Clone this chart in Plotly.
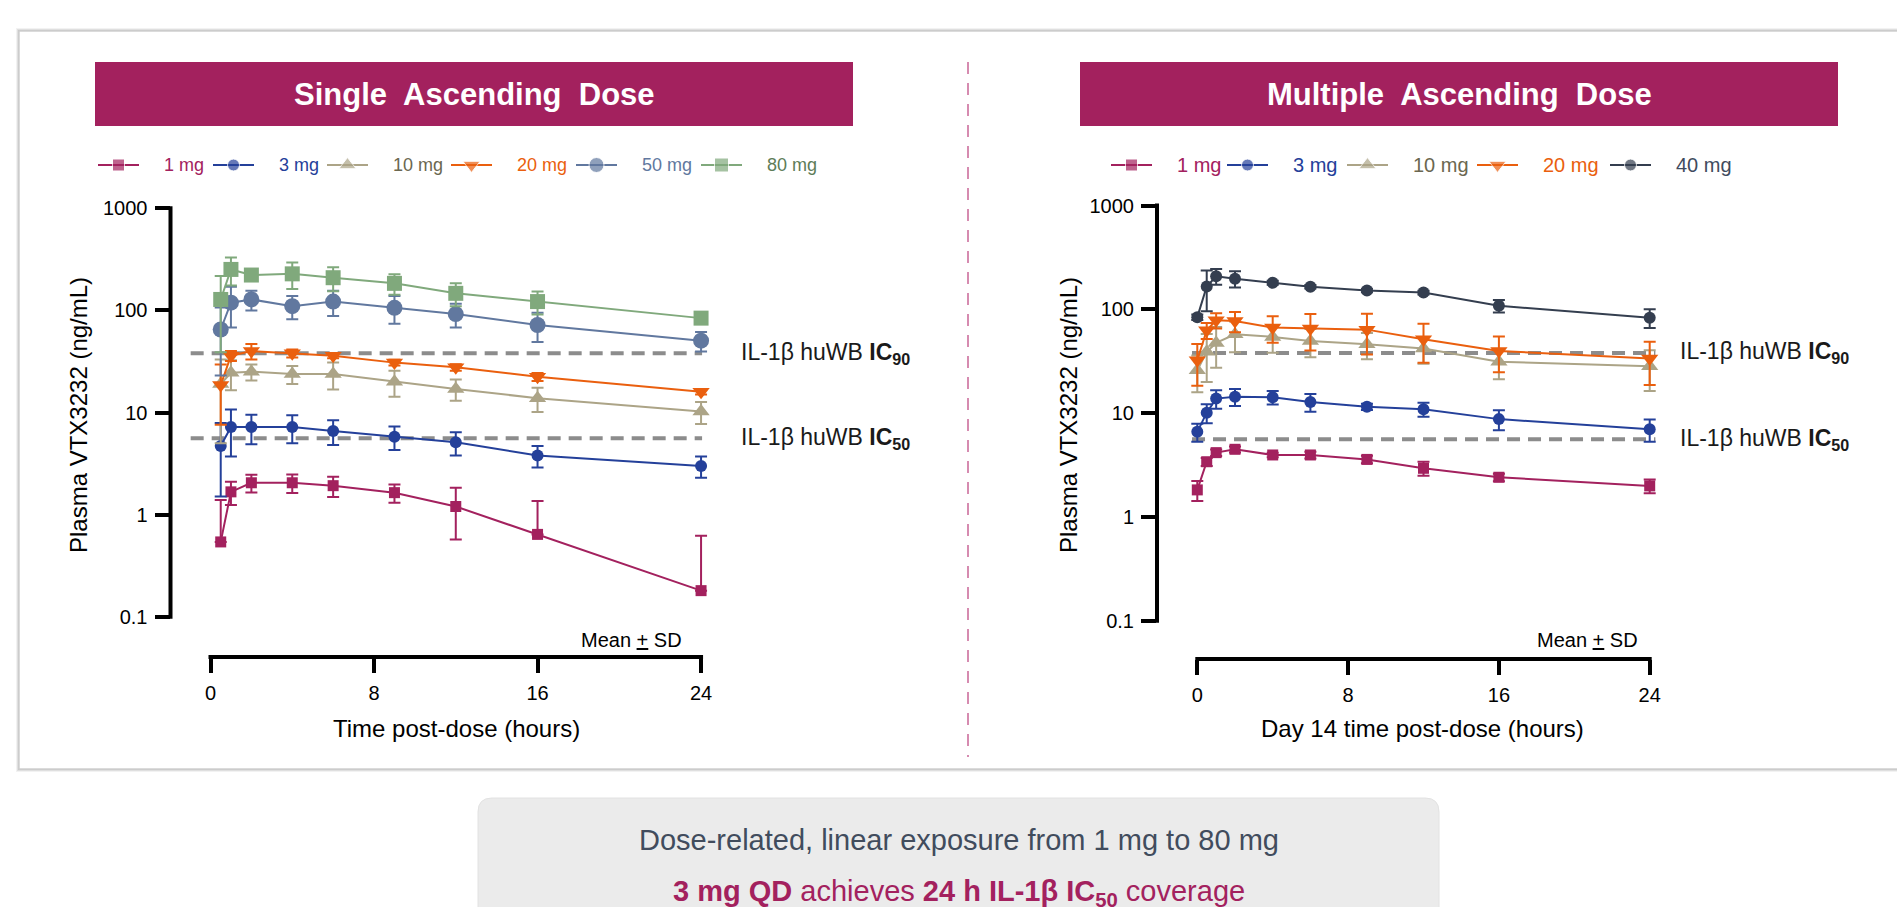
import math
import plotly.graph_objects as go

W, H = 1897, 907

# ---------------- data ----------------
sad_time = [0.5, 1, 2, 4, 6, 9, 12, 16, 24]
sad_1mg = [0.54, 1.67, 2.05, 2.05, 1.92, 1.64, 1.20, 0.64, 0.18]
sad_1mg_sd = [0.85, 0.43, 0.40, 0.42, 0.43, 0.33, 0.63, 0.72, 0.44]
sad_3mg = [4.7, 7.2, 7.2, 7.2, 6.6, 5.8, 5.1, 3.8, 3.0]
sad_3mg_sd = [3.2, 3.5, 2.3, 2.2, 1.8, 1.5, 1.3, 0.9, 0.7]
sad_10mg = [19.0, 24.5, 25.1, 23.8, 23.8, 20.0, 17.0, 13.8, 10.2]
sad_10mg_sd = [14.0, 8.0, 4.5, 4.8, 7.0, 5.7, 4.0, 3.7, 2.5]
sad_20mg = [18.6, 36.0, 40.0, 38.0, 36.0, 30.8, 27.7, 22.4, 16.0]
sad_20mg_sd = [11.0, 4.0, 7.0, 3.5, 2.0, 2.0, 2.0, 2.0, 1.0]
sad_50mg = [65.0, 119.0, 128.0, 110.0, 122.0, 106.0, 92.0, 72.0, 50.5]
sad_50mg_sd = [42.0, 51.0, 28.0, 28.0, 34.0, 32.0, 24.0, 23.0, 11.0]
sad_80mg = [128.0, 252.0, 222.0, 228.0, 209.0, 184.0, 147.0, 122.0, 84.0]
sad_80mg_sd = [89.0, 77.0, 27.0, 66.0, 55.0, 42.0, 37.0, 31.0, 10.0]

mad_time = [0, 0.5, 1, 2, 4, 6, 9, 12, 16, 24]
mad_1mg = [1.82, 3.40, 4.16, 4.48, 3.95, 3.95, 3.58, 2.94, 2.41, 1.99]
mad_1mg_sd = [0.40, 0.30, 0.30, 0.30, 0.20, 0.30, 0.30, 0.45, 0.20, 0.30]
mad_3mg = [6.6, 10.1, 13.8, 14.4, 14.2, 12.8, 11.5, 10.9, 8.75, 7.0]
mad_3mg_sd = [1.3, 2.1, 2.8, 2.7, 2.1, 2.5, 0.8, 1.7, 1.9, 1.7]
mad_10mg = [25.9, 38.9, 47.4, 57.5, 54.2, 49.6, 46.0, 41.9, 31.2, 28.3]
mad_10mg_sd = [10.0, 19.0, 20.0, 19.0, 16.0, 15.0, 13.0, 12.0, 10.0, 12.0]
mad_20mg = [32.3, 62.8, 78.4, 77.2, 66.7, 65.2, 63.7, 51.5, 39.7, 33.6]
mad_20mg_sd = [14.0, 11.0, 13.0, 17.0, 19.0, 25.0, 27.0, 21.0, 15.0, 15.0]
mad_40mg = [84.0, 166.0, 208.0, 197.0, 180.0, 165.0, 152.0, 145.0, 108.0, 83.0]
mad_40mg_sd = [5.0, 70.0, 36.0, 35.0, 8.0, 6.0, 6.0, 6.0, 15.0, 17.0]

ic90 = 38.0
ic50 = 5.6

y_tickvals = [0.1, 1, 10, 100, 1000]
y_ticktext = ["0.1", "1", "10", "100", "1000"]
x_tickvals = [0, 8, 16, 24]
x_ticktext = ["0", "8", "16", "24"]

sad_labels = ["1 mg", "3 mg", "10 mg", "20 mg", "50 mg", "80 mg"]
mad_labels = ["1 mg", "3 mg", "10 mg", "20 mg", "40 mg"]

sad_series = [sad_1mg, sad_3mg, sad_10mg, sad_20mg, sad_50mg, sad_80mg]
sad_sds = [sad_1mg_sd, sad_3mg_sd, sad_10mg_sd, sad_20mg_sd, sad_50mg_sd, sad_80mg_sd]
mad_series = [mad_1mg, mad_3mg, mad_10mg, mad_20mg, mad_40mg]
mad_sds = [mad_1mg_sd, mad_3mg_sd, mad_10mg_sd, mad_20mg_sd, mad_40mg_sd]

panel_titles = ["Single Ascending Dose", "Multiple Ascending Dose"]
x_titles = ["Time post-dose (hours)", "Day 14 time post-dose (hours)"]
y_title = "Plasma VTX3232 (ng/mL)"
ic_label_90 = "IL-1β huWB <b>IC<sub>90</sub></b>"
ic_label_50 = "IL-1β huWB <b>IC<sub>50</sub></b>"
note = "Mean <u>+</u> SD"
summary_1 = "Dose-related, linear exposure from 1 mg to 80 mg"
summary_2 = "<b>3 mg QD</b> achieves <b>24 h IL-1β IC<sub>50</sub></b> coverage"

# ---------------- styles ----------------
FONT = "Liberation Sans, Arial, Helvetica, sans-serif"
MAGENTA = "#a3215e"
styles = {
    "1 mg": dict(color="#a3215e", text="#a3215e", symbol="square"),
    "3 mg": dict(color="#24409a", text="#24409a", symbol="circle"),
    "10 mg": dict(color="#aca487", text="#6b6750", symbol="triangle-up"),
    "20 mg": dict(color="#ea5f0e", text="#ea5f0e", symbol="triangle-down"),
    "50 mg": dict(color="#61789f", text="#61789f", symbol="circle"),
    "80 mg": dict(color="#80a97c", text="#5e7c58", symbol="square"),
    "40 mg": dict(color="#343e4f", text="#3f4b5e", symbol="circle"),
}
sad_sizes = {"1 mg": 11, "3 mg": 12, "10 mg": 15, "20 mg": 15, "50 mg": 16, "80 mg": 15}
mad_sizes = {"1 mg": 11, "3 mg": 12, "10 mg": 15, "20 mg": 15, "40 mg": 12}
legend_sizes = {"1 mg": 12, "3 mg": 12, "10 mg": 15, "20 mg": 15, "50 mg": 15, "80 mg": 14, "40 mg": 12}

# pixel calibration of each panel (layout)
panels = [
    dict(x0=210.5, xs=20.44, yax=170.5, xright=731, y1000=208.3, dec=102.1, xline=657, ytop=190,
         ic_x0=-0.97, ic_x1=24.05, ic_lab=739, note_x=684, ytitle_x=78, xtitle_x=456,
         banner=(95, 853)),
    dict(x0=1197.3, xs=18.85, yax=1157, xright=1668, y1000=205.5, dec=103.8, xline=659, ytop=190,
         ic_x0=-0.28, ic_x1=24.3, ic_lab=1678, note_x=1640, ytitle_x=1068, xtitle_x=1422,
         banner=(1080, 1838)),
]


def PX(x):
    return x / W


def PY(y):
    return 1 - y / H


fig = go.Figure()
shapes = []
annotations = []

# card + shadow
for i, op in enumerate([0.05, 0.08, 0.12]):
    d = 3 - i
    shapes.append(dict(type="rect", xref="paper", yref="paper",
                       x0=PX(19 - d), x1=PX(1915), y0=PY(31 - d), y1=PY(769 + d),
                       line=dict(width=0), fillcolor=f"rgba(0,0,0,{op})", layer="below"))
shapes.append(dict(type="rect", xref="paper", yref="paper",
                   x0=PX(19), x1=PX(1915), y0=PY(31), y1=PY(769),
                   line=dict(color="#cfcfcf", width=1.5), fillcolor="white", layer="below"))

# bottom summary box (rounded)
bx0, bx1, by0, by1, r = 478, 1439, 798, 930, 14
path = (f"M {PX(bx0 + r)},{PY(by0)} L {PX(bx1 - r)},{PY(by0)} "
        f"Q {PX(bx1)},{PY(by0)} {PX(bx1)},{PY(by0 + r)} L {PX(bx1)},{PY(by1)} "
        f"L {PX(bx0)},{PY(by1)} L {PX(bx0)},{PY(by0 + r)} "
        f"Q {PX(bx0)},{PY(by0)} {PX(bx0 + r)},{PY(by0)} Z")
shapes.append(dict(type="path", xref="paper", yref="paper", path=path,
                   fillcolor="#ebebeb", line=dict(color="#e2e2e2", width=1), layer="below"))
annotations.append(dict(xref="paper", yref="paper", x=PX(958.5), y=PY(840), text=summary_1,
                        showarrow=False, xanchor="center", yanchor="middle",
                        font=dict(family=FONT, size=29, color="#414c5d")))
annotations.append(dict(xref="paper", yref="paper", x=PX(958.5), y=PY(893), text=summary_2,
                        showarrow=False, xanchor="center", yanchor="middle",
                        font=dict(family=FONT, size=29, color=MAGENTA)))

# divider
shapes.append(dict(type="line", xref="paper", yref="paper", x0=PX(968), x1=PX(968),
                   y0=PY(62), y1=PY(757), line=dict(color="#d68bb0", width=2, dash="12px,9px")))

axis_names = [("x", "y", "xaxis", "yaxis"), ("x2", "y2", "xaxis2", "yaxis2")]
all_series = [(sad_time, sad_labels, sad_series, sad_sds, sad_sizes),
              (mad_time, mad_labels, mad_series, mad_sds, mad_sizes)]

layout_axes = {}
for p, (xa, ya, xk, yk), (tt, labels, series, sds, sizes), title, xtitle in zip(
        panels, axis_names, all_series, panel_titles, x_titles):
    xr = [(p["yax"] - p["x0"]) / p["xs"], (p["xright"] - p["x0"]) / p["xs"]]
    yr = [3 - (p["xline"] - p["y1000"]) / p["dec"], 3 - (p["ytop"] - p["y1000"]) / p["dec"]]
    layout_axes[xk] = dict(domain=[PX(p["yax"]), PX(p["xright"])], range=xr, anchor=ya,
                           showgrid=False, zeroline=False, showline=False,
                           ticks="outside", ticklen=15, tickwidth=4, tickcolor="black",
                           tickvals=x_tickvals, ticktext=x_ticktext, ticklabelstandoff=3,
                           tickfont=dict(family=FONT, size=20, color="black"))
    layout_axes[yk] = dict(type="log", domain=[PY(p["xline"]), PY(p["ytop"])], range=yr, anchor=xa,
                           showgrid=False, zeroline=False, showline=False,
                           ticks="outside", ticklen=15, tickwidth=4, tickcolor="black",
                           tickvals=y_tickvals, ticktext=y_ticktext, ticklabelstandoff=3,
                           tickfont=dict(family=FONT, size=20, color="black"))
    # axis lines (offset style)
    ybot = p["y1000"] + 4 * p["dec"]
    shapes.append(dict(type="line", xref="paper", yref="paper", x0=PX(p["yax"]), x1=PX(p["yax"]),
                       y0=PY(p["y1000"] - 2), y1=PY(ybot + 2), line=dict(color="black", width=4)))
    shapes.append(dict(type="line", xref="paper", yref="paper", x0=PX(p["x0"] - 2),
                       x1=PX(p["x0"] + 24 * p["xs"] + 2),
                       y0=PY(p["xline"]), y1=PY(p["xline"]), line=dict(color="black", width=4)))
    # IC reference lines
    for ic in (ic90, ic50):
        fig.add_trace(go.Scatter(x=[p["ic_x0"], p["ic_x1"]], y=[ic, ic], mode="lines",
                                 line=dict(color="#8c8c8c", width=4, dash="13px,8px"),
                                 xaxis=xa, yaxis=ya, showlegend=False, hoverinfo="skip"))
    for ic, lab in ((ic90, ic_label_90), (ic50, ic_label_50)):
        annotations.append(dict(xref="paper", yref=ya, x=PX(p["ic_lab"]), y=math.log10(ic),
                                text=lab, showarrow=False, xanchor="left", yanchor="middle",
                                font=dict(family=FONT, size=23, color="#1a1a1a")))
    # data
    for lab, m, s in zip(labels, series, sds):
        st = styles[lab]
        minus = [sd if sd < mv else 0 for mv, sd in zip(m, s)]
        fig.add_trace(go.Scatter(
            x=tt, y=m, mode="lines+markers", name=lab,
            line=dict(color=st["color"], width=2),
            marker=dict(symbol=st["symbol"], size=sizes[lab], color=st["color"]),
            error_y=dict(type="data", array=s, arrayminus=minus, symmetric=False,
                         color=st["color"], thickness=2, width=6),
            xaxis=xa, yaxis=ya, showlegend=False, cliponaxis=False))
    # banner
    b0, b1 = p["banner"]
    shapes.append(dict(type="rect", xref="paper", yref="paper", x0=PX(b0), x1=PX(b1),
                       y0=PY(62), y1=PY(126), fillcolor=MAGENTA, line=dict(width=0)))
    annotations.append(dict(xref="paper", yref="paper", x=PX((b0 + b1) / 2), y=PY(94),
                            text=f"<b>{title.replace(' ', '  ')}</b>", showarrow=False,
                            xanchor="center", yanchor="middle",
                            font=dict(family=FONT, size=31, color="white")))
    # titles
    annotations.append(dict(xref="paper", yref="paper", x=PX(p["ytitle_x"]), y=PY(415),
                            text=y_title, textangle=-90, showarrow=False,
                            xanchor="center", yanchor="middle",
                            font=dict(family=FONT, size=24, color="black")))
    annotations.append(dict(xref="paper", yref="paper", x=PX(p["xtitle_x"]), y=PY(728),
                            text=xtitle, showarrow=False, xanchor="center", yanchor="middle",
                            font=dict(family=FONT, size=24, color="black")))
    annotations.append(dict(xref="paper", yref="paper", x=PX(p["note_x"]), y=PY(640),
                            text=note, showarrow=False, xanchor="right", yanchor="middle",
                            font=dict(family=FONT, size=20, color="black")))

# ---------------- custom legends (pixel overlay axes) ----------------
legend_defs = [
    (sad_labels, [98, 213, 327, 451, 576, 701], 18),
    (mad_labels, [1111, 1227, 1347, 1477, 1610], 20),
]
LEG_Y = 165
for labels, starts, fsize in legend_defs:
    for lab, x0 in zip(labels, starts):
        st = styles[lab]
        ms = legend_sizes[lab]
        fig.add_trace(go.Scatter(x=[x0, x0 + 20.5, x0 + 41], y=[LEG_Y, LEG_Y, LEG_Y],
                                 mode="lines+markers", line=dict(color=st["color"], width=2),
                                 marker=dict(symbol=st["symbol"], size=[0, ms, 0], color=st["color"]),
                                 xaxis="x3", yaxis="y3", showlegend=False, hoverinfo="skip"))
        annotations.append(dict(xref="x3", yref="y3", x=x0 + 64, y=LEG_Y, text=lab,
                                showarrow=False, xanchor="left", yanchor="middle",
                                font=dict(family=FONT, size=fsize, color=st["text"])))

layout_axes["xaxis3"] = dict(domain=[0, 1], range=[0, W], visible=False, anchor="y3", fixedrange=True)
layout_axes["yaxis3"] = dict(domain=[0, 1], range=[H, 0], visible=False, anchor="x3", fixedrange=True)

fig.update_layout(
    width=W, height=H, autosize=False,
    margin=dict(l=0, r=0, t=0, b=0, pad=0),
    paper_bgcolor="white", plot_bgcolor="rgba(0,0,0,0)",
    showlegend=False, shapes=shapes, annotations=annotations,
    font=dict(family=FONT),
    **layout_axes,
)

fig.write_html("out.html", config={"displayModeBar": False},
               post_script="document.body.style.margin='0';document.body.style.overflow='hidden';")
